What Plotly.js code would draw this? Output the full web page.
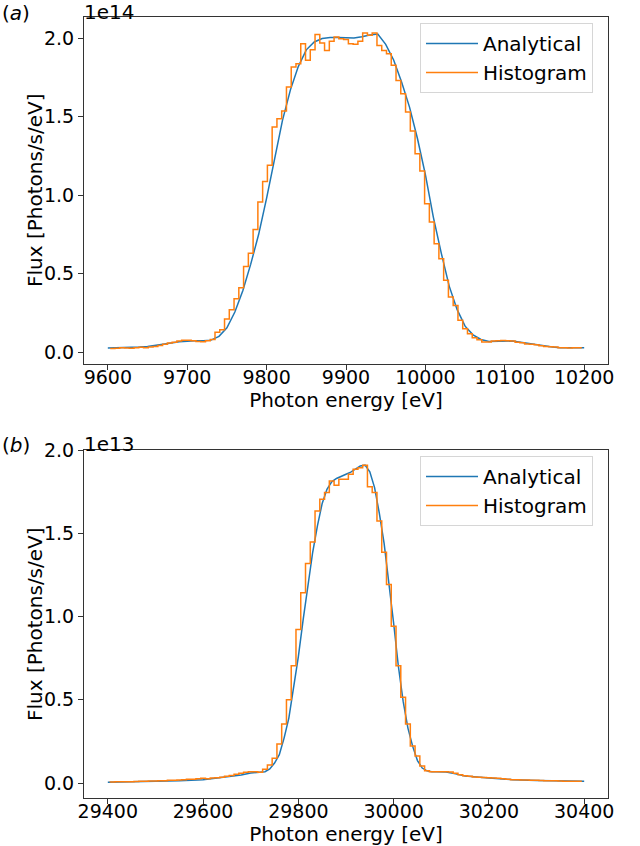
<!DOCTYPE html>
<html>
<head>
<meta charset="utf-8">
<script src="https://cdn.plot.ly/plotly-3.0.1.min.js"></script>
<style>
  html, body { margin: 0; padding: 0; background: #fff; }
  #flux-figure { width: 640px; height: 846px; }
</style>
</head>
<body>
<div id="flux-figure"></div>
<script>
// (a) ~9.9 keV, flux in units of 1e14 photons/s/eV
var energyA = [9600, 9610, 9620, 9630, 9640, 9650, 9660, 9670, 9680, 9690,
    9700, 9710, 9720, 9730, 9740, 9750, 9760, 9770, 9780, 9790,
    9800, 9810, 9820, 9830, 9840, 9850, 9860, 9870, 9880, 9890,
    9900, 9910, 9920, 9930, 9940, 9950, 9960, 9970, 9980, 9990,
    10000, 10010, 10020, 10030, 10040, 10050, 10060, 10070, 10080, 10090,
    10100, 10110, 10120, 10130, 10140, 10150, 10160, 10170, 10180, 10190, 10200]
var analyticalA = [0.026, 0.027, 0.028, 0.030, 0.032, 0.036, 0.042, 0.050, 0.058, 0.065,
    0.070, 0.072, 0.072, 0.076, 0.100, 0.155, 0.255, 0.390, 0.560, 0.750,
    0.980, 1.230, 1.476, 1.670, 1.820, 1.925, 1.975, 1.997, 2.003, 2.003,
    2.000, 2.000, 2.008, 2.020, 2.025, 1.960, 1.860, 1.720, 1.560, 1.360,
    1.130, 0.860, 0.630, 0.420, 0.270, 0.165, 0.110, 0.080, 0.068, 0.068,
    0.072, 0.070, 0.062, 0.055, 0.045, 0.037, 0.032, 0.028, 0.027, 0.027, 0.027]
var histA = [0.022, 0.022, 0.024, 0.028, 0.026, 0.025, 0.027, 0.030, 0.028, 0.032,
    0.036, 0.042, 0.050, 0.058, 0.062, 0.070, 0.076, 0.076, 0.072, 0.068,
    0.066, 0.072, 0.080, 0.127, 0.142, 0.210, 0.270, 0.340, 0.410, 0.545,
    0.630, 0.780, 0.955, 1.087, 1.190, 1.433, 1.486, 1.535, 1.688, 1.815,
    1.836, 1.964, 1.858, 1.926, 2.023, 1.968, 1.920, 1.980, 2.006, 1.995,
    1.990, 1.964, 1.960, 1.980, 2.032, 2.017, 2.032, 1.953, 1.920, 1.900,
    1.826, 1.730, 1.645, 1.529, 1.408, 1.263, 1.153, 0.945, 0.828, 0.690,
    0.594, 0.457, 0.350, 0.297, 0.202, 0.148, 0.117, 0.091, 0.078, 0.064,
    0.064, 0.070, 0.072, 0.074, 0.072, 0.070, 0.062, 0.060, 0.052, 0.050,
    0.047, 0.040, 0.036, 0.034, 0.032, 0.028, 0.027, 0.026, 0.027, 0.027]
var binStartA = 9600
var binWidthA = 6

// (b) ~29.9 keV, flux in units of 1e13 photons/s/eV
var energyB = [29400, 29450, 29500, 29550, 29600, 29650, 29680, 29700, 29720, 29730,
    29740, 29750, 29760, 29770, 29780, 29790, 29800, 29810, 29820, 29830,
    29840, 29850, 29860, 29870, 29880, 29890, 29900, 29910, 29920, 29930,
    29940, 29950, 29960, 29970, 29980, 29990, 30000, 30010, 30020, 30030,
    30040, 30050, 30060, 30070, 30080, 30090, 30100, 30110, 30130, 30150,
    30200, 30250, 30300, 30350, 30400]
var analyticalB = [0.005, 0.007, 0.010, 0.013, 0.020, 0.035, 0.048, 0.060, 0.066, 0.068,
    0.085, 0.120, 0.170, 0.270, 0.390, 0.570, 0.760, 0.980, 1.180, 1.385,
    1.545, 1.680, 1.765, 1.810, 1.830, 1.845, 1.855, 1.868, 1.885, 1.905,
    1.910, 1.870, 1.775, 1.620, 1.440, 1.210, 0.960, 0.700, 0.490, 0.330,
    0.220, 0.135, 0.090, 0.073, 0.068, 0.068, 0.068, 0.066, 0.055, 0.042,
    0.030, 0.020, 0.015, 0.012, 0.010]
var histB = [0.005, 0.006, 0.007, 0.007, 0.008, 0.008, 0.009, 0.010, 0.010, 0.012,
    0.012, 0.013, 0.014, 0.016, 0.016, 0.018, 0.020, 0.022, 0.022, 0.025,
    0.028, 0.026, 0.030, 0.032, 0.035, 0.040, 0.045, 0.052, 0.058, 0.064,
    0.067, 0.068, 0.065, 0.082, 0.108, 0.149, 0.235, 0.355, 0.500, 0.705,
    0.922, 1.143, 1.319, 1.448, 1.634, 1.705, 1.745, 1.815, 1.789, 1.825,
    1.825, 1.855, 1.885, 1.895, 1.910, 1.780, 1.745, 1.574, 1.387, 1.193,
    0.942, 0.705, 0.516, 0.355, 0.223, 0.163, 0.102, 0.074, 0.068, 0.068,
    0.068, 0.068, 0.066, 0.058, 0.050, 0.044, 0.040, 0.036, 0.034, 0.033,
    0.032, 0.030, 0.028, 0.026, 0.022, 0.020, 0.019, 0.018, 0.018, 0.017,
    0.016, 0.015, 0.014, 0.014, 0.013, 0.012, 0.011, 0.010, 0.010, 0.010]
var binStartB = 29400
var binWidthB = 10

var panelLabels = ['(<i>a</i>)', '(<i>b</i>)']
var offsetLabels = ['1e14', '1e13']
var seriesNames = ['Analytical', 'Histogram']
var xTitle = 'Photon energy [eV]'
var yTitle = 'Flux [Photons/s/eV]'

function binCentres(start, width, n) {
    var c = new Array(n)
    for (let i = 0; i < n; i++) {
        c[i] = start + width * (i + 0.5)
    }
    return c
}

function make_flux_figure() {
    var blue = '#1f77b4'
    var orange = '#ff7f0e'
    var font = 'DejaVu Sans, Verdana, sans-serif'

    var traces = [
        { x: energyA, y: analyticalA, mode: 'lines', name: seriesNames[0],
          line: { color: blue, width: 1.5 }, xaxis: 'x', yaxis: 'y', legend: 'legend' },
        // step 'pre' on bin centres, like plt.step
        { x: binCentres(binStartA, binWidthA, histA.length), y: histA, mode: 'lines', name: seriesNames[1],
          line: { color: orange, width: 1.5, shape: 'vh' }, xaxis: 'x', yaxis: 'y', legend: 'legend' },
        { x: energyB, y: analyticalB, mode: 'lines', name: seriesNames[0],
          line: { color: blue, width: 1.5 }, xaxis: 'x2', yaxis: 'y2', legend: 'legend2' },
        { x: binCentres(binStartB, binWidthB, histB.length), y: histB, mode: 'lines', name: seriesNames[1],
          line: { color: orange, width: 1.5, shape: 'vh' }, xaxis: 'x2', yaxis: 'y2', legend: 'legend2' }
    ]

    var W = 640, H = 846
    var xdom = [84 / W, 608 / W]

    function xax(range, tick0, dtick, anchor) {
        return {
            domain: xdom, anchor: anchor, range: range, tick0: tick0, dtick: dtick,
            tickformat: 'd', separatethousands: false,
            showgrid: false, zeroline: false,
            showline: true, mirror: true, linecolor: '#333', linewidth: 1,
            ticks: 'outside', ticklen: 5, tickwidth: 1, tickcolor: '#333',
            ticklabelstandoff: -9,
            tickfont: { size: 19, color: '#000' },
            title: { text: xTitle, font: { size: 20, color: '#000' }, standoff: 2 }
        }
    }
    function yax(domain, range, anchor) {
        return {
            domain: domain, anchor: anchor, range: range, tick0: 0, dtick: 0.5, tickformat: '.1f',
            showgrid: false, zeroline: false,
            showline: true, mirror: true, linecolor: '#333', linewidth: 1,
            ticks: 'outside', ticklen: 5, tickwidth: 1, tickcolor: '#333',
            tickfont: { size: 19, color: '#000' }
        }
    }
    function leg(top) {
        return {
            x: 420 / W, xanchor: 'left', y: 1 - top / H, yanchor: 'top',
            bgcolor: 'rgba(255,255,255,0.8)', bordercolor: '#d6d6d6', borderwidth: 1,
            itemwidth: 52,
            font: { size: 20, color: '#000' }
        }
    }
    function note(text, x, yc) {
        return { text: text, xref: 'paper', yref: 'paper', x: x / W, y: 1 - yc / H,
                 xanchor: 'left', yanchor: 'middle', showarrow: false,
                 font: { size: 20, color: '#000' } }
    }
    function ytitle(yc) {
        return { text: yTitle, xref: 'paper', yref: 'paper', x: 35 / W, y: 1 - yc / H,
                 xanchor: 'center', yanchor: 'middle', textangle: -90, showarrow: false,
                 font: { size: 20, color: '#000' } }
    }

    var layout = {
        width: W, height: H,
        margin: { l: 0, r: 0, t: 0, b: 0 },
        font: { family: font, color: '#000' },
        paper_bgcolor: '#fff',
        plot_bgcolor: '#fff',
        xaxis: xax([9570, 10230], 9600, 100, 'y'),
        yaxis: yax([1 - 364 / H, 1 - 17 / H], [-0.076, 2.134], 'x'),
        xaxis2: xax([29350, 30450], 29400, 200, 'y2'),
        yaxis2: yax([1 - 798 / H, 1 - 450 / H], [-0.09, 2.001], 'x2'),
        legend: leg(23),
        legend2: leg(456),
        annotations: [
            note(panelLabels[0], 0, 13),
            note(offsetLabels[0], 82, 12),
            ytitle(190),
            note(panelLabels[1], 0, 445),
            note(offsetLabels[1], 82, 444),
            ytitle(624)
        ]
    }

    Plotly.newPlot('flux-figure', traces, layout, { staticPlot: true })
}

make_flux_figure()
</script>
</body>
</html>
